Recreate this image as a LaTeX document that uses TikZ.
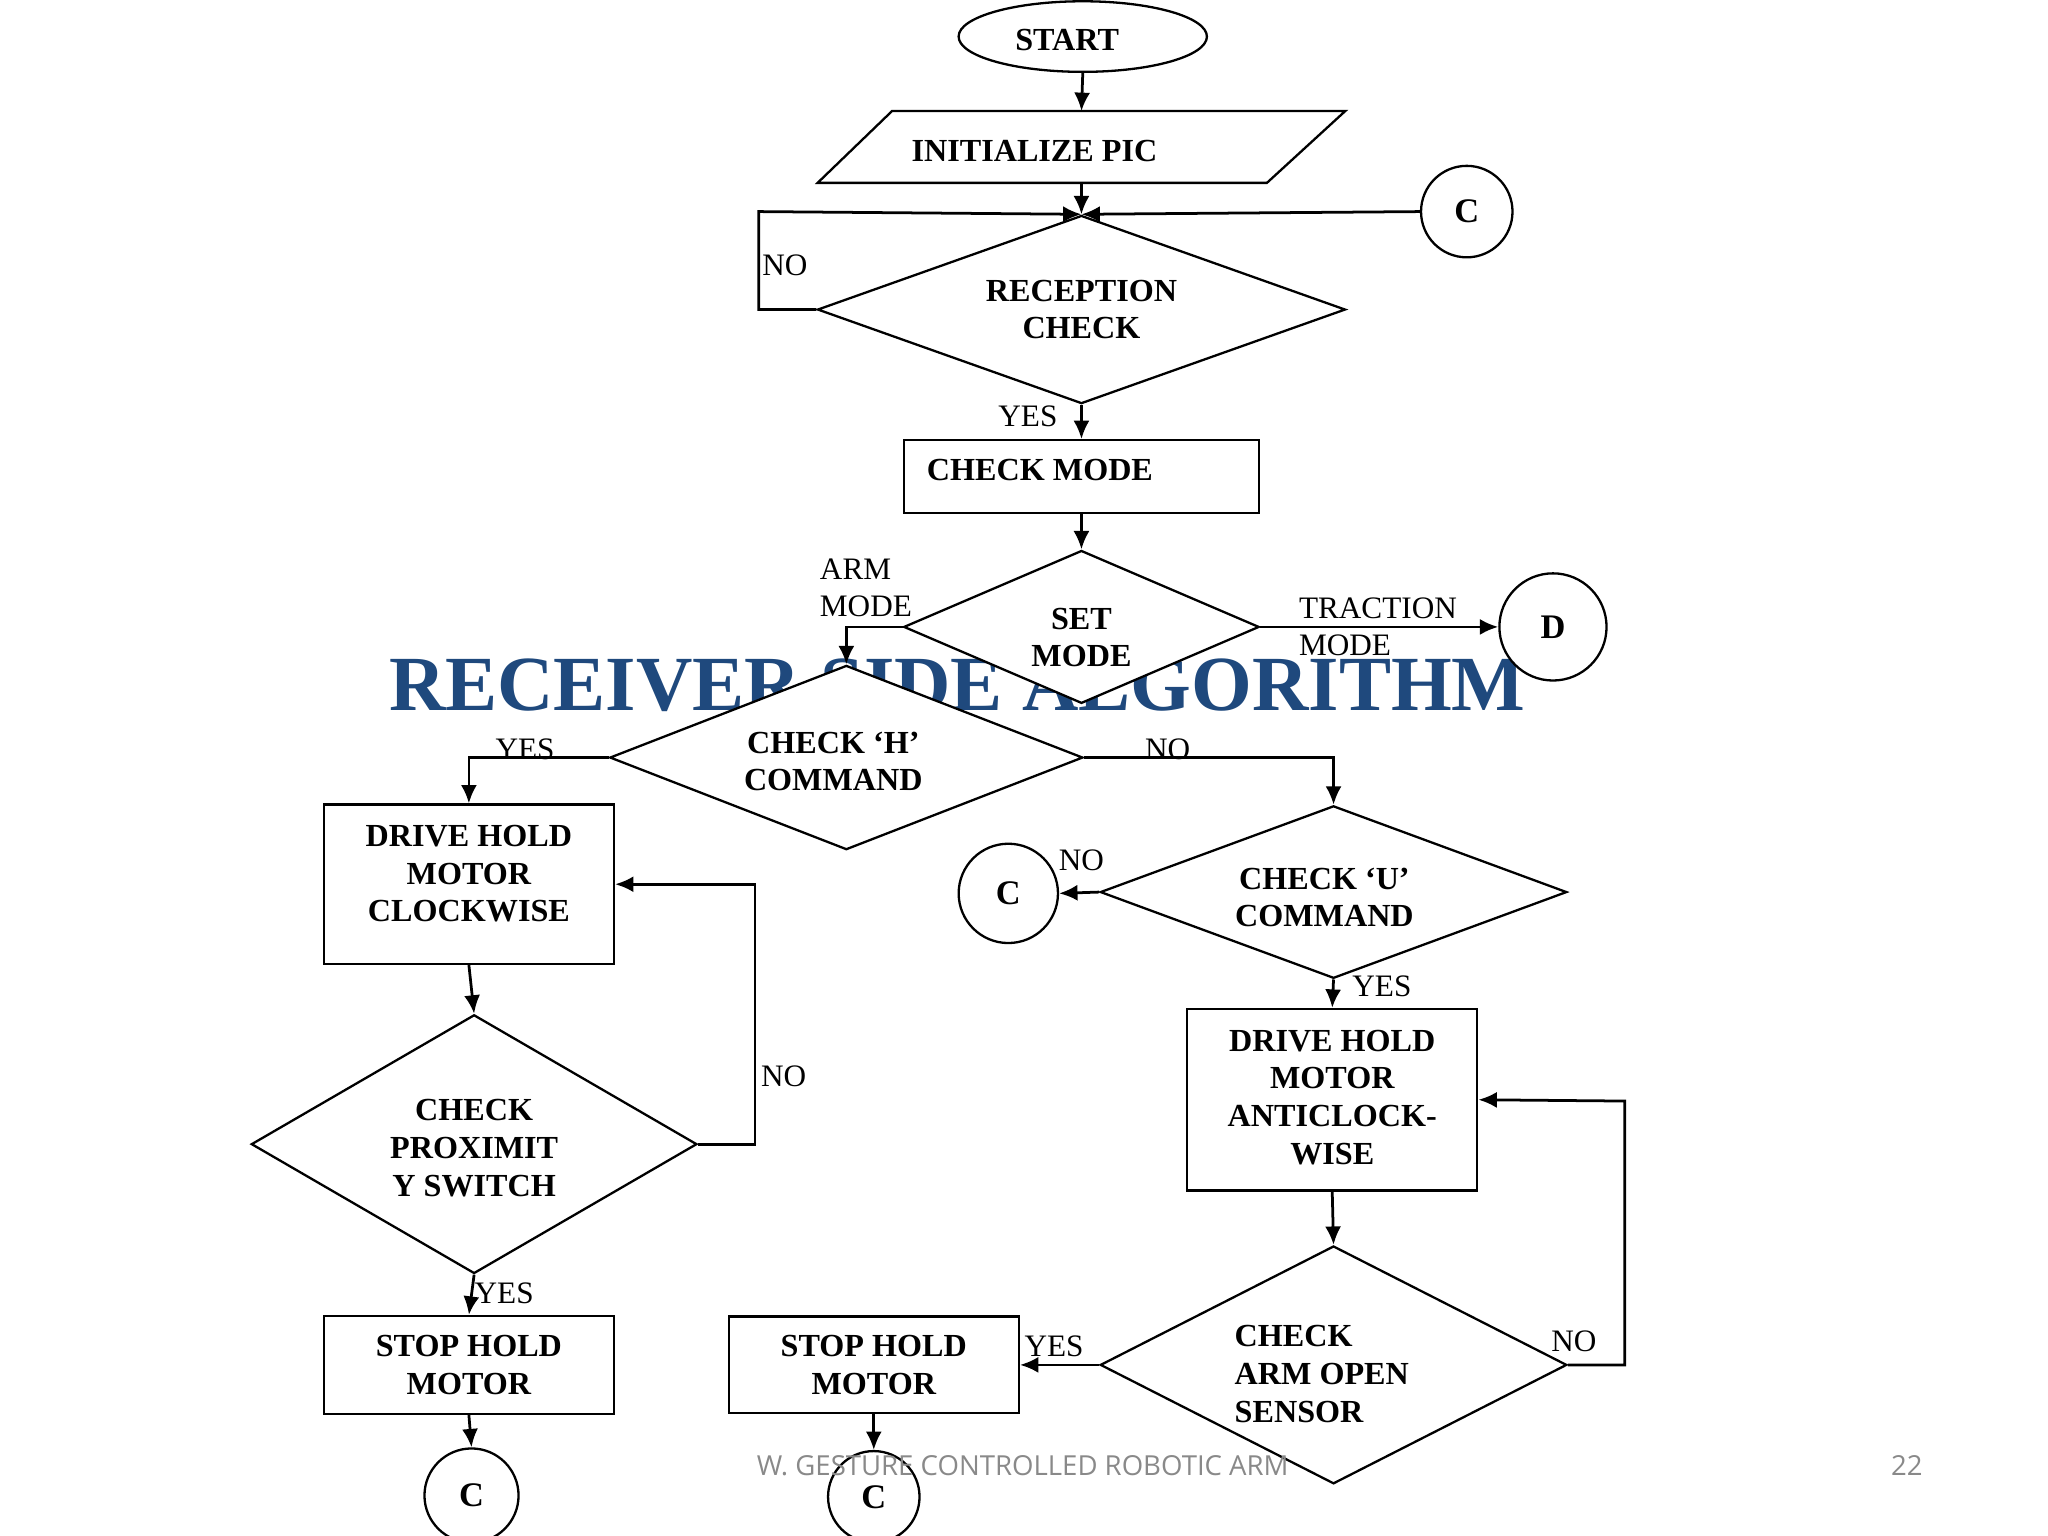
\documentclass[tikz,border=0pt]{standalone}
\usepackage{fontspec}
\setmainfont{Liberation Serif}
\newfontfamily\foot{Open Sans}
\usetikzlibrary{shapes.geometric,arrows.meta}
\begin{document}
\begin{tikzpicture}[x=0.01cm,y=-0.01cm,
 every node/.style={font=\fontsize{7}{8.2}\selectfont},
 bt/.style={font=\fontsize{7}{8.2}\selectfont\bfseries,align=center},
 lb/.style={font=\fontsize{6.8}{8}\selectfont,inner sep=0},
 box/.style={draw,fill=white,line width=0.5pt,inner sep=0},
 dia/.style={draw,diamond,fill=white,line width=0.5pt,inner sep=0},
 cir/.style={draw,circle,fill=white,line width=0.5pt,inner sep=0,font=\fontsize{7.5}{9}\selectfont\bfseries},
 ar/.style={-{Latex[length=4pt,width=3.5pt]},line width=0.6pt},
 ln/.style={line width=0.6pt}]
\useasboundingbox (0,0) rectangle (1568,1176);
\node[font=\fontsize{17}{20}\selectfont\bfseries,text={rgb,255:red,31;green,73;blue,125}] (title) at (733,525) {RECEIVER SIDE ALGORITHM};
\node[draw,ellipse,fill=white,line width=0.5pt,minimum width=1.9cm,minimum height=0.54cm,inner sep=0,bt] (start) at (829,28) {};
\node[bt] at (817,31) {START};
\draw[fill=white,line width=0.5pt] (683,85) -- (1030,85) -- (970,140) -- (626,140) -- cycle;
\node[bt] (init) at (792,116) {INITIALIZE PIC};
\coordinate (initt) at (828,85);
\coordinate (initb) at (828,140);
\node[cir,minimum size=0.7cm] (c1) at (1123,162) {C};
\node[dia,minimum width=4.04cm,minimum height=1.44cm] (rc) at (828,237) {};
\node[bt] at (828,237) {RECEPTION\\CHECK};
\node[box,minimum width=2.72cm,minimum height=0.56cm] (cm) at (828,365) {};
\node[bt,anchor=west,inner sep=0] at (709,360) {CHECK MODE};
\node[dia,minimum width=2.72cm,minimum height=1.17cm] (sm) at (828,480) {};
\node[bt] at (828,488) {SET\\MODE};
\node[cir,minimum size=0.82cm] (d) at (1189,480) {D};
\node[dia,minimum width=3.62cm,minimum height=1.41cm] (ch) at (648,580) {};
\node[bt] at (638,583) {CHECK ‘H’\\COMMAND};
\node[box,minimum width=2.22cm,minimum height=1.22cm] (dh1) at (359,677) {};
\node[bt] at (359,669) {DRIVE HOLD\\MOTOR\\CLOCKWISE};
\node[dia,minimum width=3.41cm,minimum height=1.98cm] (cp) at (363,876) {};
\node[bt] at (363,879) {CHECK\\PROXIMIT\\Y SWITCH};
\node[box,minimum width=2.22cm,minimum height=0.75cm,bt] (sh1) at (359,1045) {STOP HOLD\\MOTOR};
\node[cir,minimum size=0.72cm] (c2) at (361,1145) {C};
\node[dia,minimum width=3.57cm,minimum height=1.32cm] (cu) at (1021,683) {};
\node[bt] at (1014,687) {CHECK ‘U’\\COMMAND};
\node[cir,minimum size=0.76cm] (c3) at (772,684) {C};
\node[box,minimum width=2.22cm,minimum height=1.39cm] (dh2) at (1020,842) {};
\node[bt] at (1020,840) {DRIVE HOLD\\MOTOR\\ANTICLOCK-\\WISE};
\node[dia,minimum width=3.57cm,minimum height=1.82cm] (ca) at (1021,1045) {};
\node[bt,align=left] at (1012,1052) {CHECK\\ARM OPEN\\SENSOR};
\node[box,minimum width=2.22cm,minimum height=0.74cm,bt] (sh2) at (669,1045) {STOP HOLD\\MOTOR};
\node[cir,minimum size=0.7cm] (c4) at (669,1146) {C};
% connectors
\draw[ar] (start.south) -- (initt);
\draw[ar] (initb) -- (rc.north);
\draw[ar] (c1.west) -- (rc.north);
\draw[ar] (rc.west) -- (581,237) -- (581,162) -- (rc.north);
\draw[ar] (rc.south) -- (cm.north);
\draw[ar] (cm.south) -- (sm.north);
\draw[ar] (sm.east) -- (d.west);
\draw[ar] (sm.west) -- (648,480) -- (ch.north);
\draw[ar] (ch.west) -- (359,580) -- (dh1.north);
\draw[ar] (ch.east) -- (1021,580) -- (cu.north);
\draw[ar] (dh1.south) -- (cp.north);
\draw[ar] (cp.east) -- (578,876) -- (578,677) -- (dh1.east);
\draw[ar] (cp.south) -- (sh1.north);
\draw[ar] (sh1.south) -- (c2.north);
\draw[ar] (cu.west) -- (c3.east);
\draw[ar] (cu.south) -- (dh2.north);
\draw[ar] (dh2.south) -- (ca.north);
\draw[ar] (ca.east) -- (1244,1045) -- (1244,843) -- (dh2.east);
\draw[ar] (ca.west) -- (sh2.east);
\draw[ar] (sh2.south) -- (c4.north);
% labels
\node[lb] at (601,203) {NO};
\node[lb] at (787,319) {YES};
\node[lb,align=left] at (663,450) {ARM\\MODE};
\node[lb,align=left] at (1055,480) {TRACTION\\MODE};
\node[lb] at (402,574) {YES};
\node[lb] at (894,574) {NO};
\node[lb] at (600,824) {NO};
\node[lb] at (386,990) {YES};
\node[lb] at (828,659) {NO};
\node[lb] at (1058,755) {YES};
\node[lb] at (1205,1027) {NO};
\node[lb] at (807,1031) {YES};
\node[font=\foot\fontsize{6}{7.5}\selectfont,text={rgb,255:red,137;green,137;blue,137}] (ft) at (783,1122) {W. GESTURE CONTROLLED ROBOTIC ARM};
\node[font=\foot\fontsize{6}{7.5}\selectfont,text={rgb,255:red,137;green,137;blue,137}] (pg) at (1460,1122) {22};
\end{tikzpicture}
\end{document}
